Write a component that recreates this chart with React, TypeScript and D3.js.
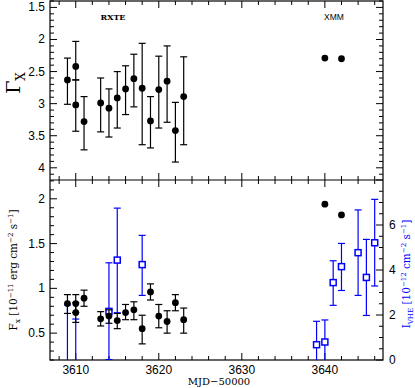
import React from "react";
import * as d3 from "d3";

// RXTE photon index
const rxteDays = [3609, 3610, 3610, 3611, 3613, 3614, 3615, 3616, 3617, 3618, 3619, 3620, 3621, 3622, 3623];
const gamma = [2.63, 2.42, 3.02, 3.28, 2.99, 3.07, 2.91, 2.77, 2.61, 2.76, 3.27, 2.78, 2.65, 3.42, 2.89];
const gammaLo = [2.29, 2.03, 2.63, 2.89, 2.6, 2.77, 2.5, 2.41, 2.23, 2.06, 2.89, 2.26, 2.1, 2.98, 2.27];
const gammaHi = [3.01, 2.63, 3.43, 3.72, 3.44, 3.52, 3.38, 3.17, 3.05, 3.64, 3.69, 3.38, 3.29, 3.91, 3.64];

// RXTE flux
const fluxDays = [3609, 3610, 3610, 3611, 3613, 3614, 3615, 3616, 3617, 3618, 3619, 3620, 3621, 3622, 3623];
const flux = [0.83, 0.83, 0.73, 0.89, 0.66, 0.69, 0.64, 0.73, 0.76, 0.55, 0.96, 0.69, 0.63, 0.84, 0.65];
const fluxLo = [0.72, 0.73, 0.62, 0.8, 0.58, 0.61, 0.55, 0.65, 0.65, 0.38, 0.87, 0.56, 0.5, 0.75, 0.5];
const fluxHi = [0.93, 0.93, 0.84, 0.98, 0.74, 0.76, 0.72, 0.82, 0.85, 0.7, 1.05, 0.82, 0.75, 0.93, 0.78];

// XMM
const xmmDays = [3640, 3642];
const xmmGamma = [2.29, 2.3];
const xmmFlux = [1.94, 1.82];

// VHE integral flux
const vheDays = [3609, 3610, 3614, 3615, 3618, 3639, 3640, 3641, 3642, 3644, 3645, 3646];
const vhe = [-1.5, -2.0, 2.16, 4.44, 4.24, 0.68, 0.8, 3.44, 4.15, 4.77, 3.67, 5.21];
const vheLo = [-3.5, -4.0, 0.02, 2.1, 2.87, -0.5, -0.5, 2.43, 3.09, 2.87, 1.98, 3.29];
const vheHi = [2.45, 1.82, 4.32, 6.75, 5.54, 1.72, 1.78, 4.41, 5.18, 6.67, 5.36, 7.14];

const gammaTicks = [1.5, 2, 2.5, 3, 3.5, 4];
const fluxTicks = [0.5, 1, 1.5, 2];
const vheTicks = [0, 2, 4, 6];
const dayTicks = [3610, 3620, 3630, 3640];

const W = 415;
const H = 388;
const L = 50;
const R = 383;
const T1 = 1;
const MID = 180;
const B2 = 360;

const BLUE = "#0000ff";
const serif = "'DejaVu Serif', 'Liberation Serif', serif";
const sans = "'Liberation Sans', Arial, sans-serif";

export default function App() {
  const x = d3.scaleLinear().domain([3606.9, 3647]).range([L, R]);
  const yG = d3.scaleLinear().domain([1.4, 4.19]).range([T1, MID]);
  const yF = d3.scaleLinear().domain([0.2, 2.21]).range([B2, MID]);
  const yV = d3.scaleLinear().domain([0, 8]).range([B2, MID]);

  const dayMinor = d3.range(3608, 3647, 2);
  const gMinor = d3.range(1.4, 4.2, 0.1).map((v) => +v.toFixed(2));
  const fMinor = d3.range(0.2, 2.21, 0.1).map((v) => +v.toFixed(2));
  const vMinor = d3.range(0, 8.01, 0.5);

  const clampV = (v: number) => Math.max(0, Math.min(8, v));

  const xTicks = (y: number, dir: number, key: string) => (
    <g key={key}>
      {dayMinor.map((d) => {
        const major = d % 10 === 0;
        return (
          <line key={d} x1={x(d)} x2={x(d)} y1={y} y2={y + dir * (major ? 7 : 4)} stroke="#000" />
        );
      })}
    </g>
  );

  return (
    <svg width={W} height={H} style={{ position: "absolute", left: 0, top: 0, background: "#fff" }}>
      <defs>
        <clipPath id="bot">
          <rect x={L} y={MID} width={R - L} height={B2 - MID} />
        </clipPath>
      </defs>

      {/* frames */}
      <rect x={L} y={T1} width={R - L} height={B2 - T1} fill="none" stroke="#000" strokeWidth={1.2} />
      <line x1={L} x2={R} y1={MID} y2={MID} stroke="#000" strokeWidth={1.2} />

      {/* x ticks */}
      {xTicks(T1, 1, "t1")}
      {xTicks(MID, -1, "t2")}
      {xTicks(MID, 1, "t3")}
      {xTicks(B2, -1, "t4")}

      {/* top panel y ticks */}
      {gMinor.map((v) => {
        const major = Math.abs(v * 2 - Math.round(v * 2)) < 1e-6;
        const len = major ? 7 : 4;
        return (
          <g key={"g" + v}>
            <line x1={L} x2={L + len} y1={yG(v)} y2={yG(v)} stroke="#000" />
            <line x1={R} x2={R - len} y1={yG(v)} y2={yG(v)} stroke="#000" />
          </g>
        );
      })}
      {gammaTicks.map((v) => (
        <text key={v} x={L - 5} y={yG(v) + 4} textAnchor="end" fontFamily={sans} fontSize={12}>
          {v}
        </text>
      ))}

      {/* bottom panel left ticks */}
      {fMinor.map((v) => {
        const major = Math.abs(v * 2 - Math.round(v * 2)) < 1e-6;
        return (
          <line key={"f" + v} x1={L} x2={L + (major ? 7 : 4)} y1={yF(v)} y2={yF(v)} stroke="#000" />
        );
      })}
      {fluxTicks.map((v) => (
        <text key={v} x={L - 5} y={yF(v) + 4} textAnchor="end" fontFamily={sans} fontSize={12}>
          {v}
        </text>
      ))}

      {/* bottom panel right ticks */}
      {vMinor.map((v) => (
        <line key={"v" + v} x1={R} x2={R - (v % 2 === 0 ? 7 : 4)} y1={yV(v)} y2={yV(v)} stroke="#000" />
      ))}
      {vheTicks.map((v) => (
        <text key={v} x={R + 6} y={yV(v) + 4} textAnchor="start" fontFamily={sans} fontSize={12}>
          {v}
        </text>
      ))}

      {dayTicks.map((d) => (
        <text key={d} x={x(d)} y={B2 + 14} textAnchor="middle" fontFamily={sans} fontSize={12}>
          {d}
        </text>
      ))}

      {/* top panel data */}
      {rxteDays.map((d, i) => (
        <g key={"gp" + i} stroke="#000" strokeWidth={1.2}>
          <line x1={x(d)} x2={x(d)} y1={yG(gammaLo[i])} y2={yG(gammaHi[i])} />
          <line x1={x(d) - 3.5} x2={x(d) + 3.5} y1={yG(gammaLo[i])} y2={yG(gammaLo[i])} />
          <line x1={x(d) - 3.5} x2={x(d) + 3.5} y1={yG(gammaHi[i])} y2={yG(gammaHi[i])} />
          <circle cx={x(d)} cy={yG(gamma[i])} r={3.4} fill="#000" stroke="none" />
        </g>
      ))}
      {xmmDays.map((d, i) => (
        <circle key={"xg" + i} cx={x(d)} cy={yG(xmmGamma[i])} r={3.4} fill="#000" />
      ))}

      {/* bottom panel data */}
      <g clipPath="url(#bot)">
        {vheDays.map((d, i) => {
          const lo = yV(clampV(vheLo[i]));
          const hi = yV(vheHi[i]);
          return (
            <g key={"v" + i} stroke={BLUE} strokeWidth={1.2} fill="none">
              <line x1={x(d)} x2={x(d)} y1={lo} y2={hi} />
              <line x1={x(d) - 3.5} x2={x(d) + 3.5} y1={hi} y2={hi} />
              {vheLo[i] >= 0 && <line x1={x(d) - 3.5} x2={x(d) + 3.5} y1={lo} y2={lo} />}
              {vhe[i] >= 0 && (
                <rect x={x(d) - 3} y={yV(vhe[i]) - 3} width={6} height={6} fill="#fff" strokeWidth={1.5} />
              )}
            </g>
          );
        })}
        {fluxDays.map((d, i) => (
          <g key={"fp" + i} stroke="#000" strokeWidth={1.2}>
            <line x1={x(d)} x2={x(d)} y1={yF(fluxLo[i])} y2={yF(fluxHi[i])} />
            <line x1={x(d) - 3.5} x2={x(d) + 3.5} y1={yF(fluxLo[i])} y2={yF(fluxLo[i])} />
            <line x1={x(d) - 3.5} x2={x(d) + 3.5} y1={yF(fluxHi[i])} y2={yF(fluxHi[i])} />
            <circle cx={x(d)} cy={yF(flux[i])} r={3.4} fill="#000" stroke="none" />
          </g>
        ))}
        {xmmDays.map((d, i) => (
          <circle key={"xf" + i} cx={x(d)} cy={yF(xmmFlux[i])} r={3.4} fill="#000" />
        ))}
      </g>

      {/* annotations */}
      <text x={113} y={20} textAnchor="middle" fontFamily={serif} fontSize={8} fontWeight="bold">
        RXTE
      </text>
      <text x={334} y={20} textAnchor="middle" fontFamily={sans} fontSize={8.5}>
        XMM
      </text>

      {/* axis labels */}
      <text
        transform={`translate(${20},${83}) rotate(-90)`}
        textAnchor="middle"
        fontFamily={serif}
        fontSize={19}
      >
        Γ<tspan fontSize={12} dy={5}>X</tspan>
      </text>
      <text
        transform={`translate(${17},${270}) rotate(-90)`}
        textAnchor="middle"
        fontFamily={serif}
        fontSize={10.5}
      >
        F<tspan fontSize={7.5} dy={3}>x</tspan>
        <tspan dy={-3}> [10</tspan>
        <tspan fontSize={7} dy={-4}>−11</tspan>
        <tspan dy={4}> erg cm</tspan>
        <tspan fontSize={7} dy={-4}>−2</tspan>
        <tspan dy={4}> s</tspan>
        <tspan fontSize={7} dy={-4}>−1</tspan>
        <tspan dy={4}>]</tspan>
      </text>
      <text
        transform={`translate(${410},${274}) rotate(-90)`}
        textAnchor="middle"
        fontFamily={serif}
        fontSize={10.5}
        fill={BLUE}
      >
        I<tspan fontSize={7} dy={3}>VHE</tspan>
        <tspan dy={-3}> [10</tspan>
        <tspan fontSize={7} dy={-4}>−12</tspan>
        <tspan dy={4}> cm</tspan>
        <tspan fontSize={7} dy={-4}>−2</tspan>
        <tspan dy={4}> s</tspan>
        <tspan fontSize={7} dy={-4}>−1</tspan>
        <tspan dy={4}>]</tspan>
      </text>
      <text x={219} y={385} textAnchor="middle" fontFamily={serif} fontSize={10}>
        MJD−50000
      </text>
    </svg>
  );
}
